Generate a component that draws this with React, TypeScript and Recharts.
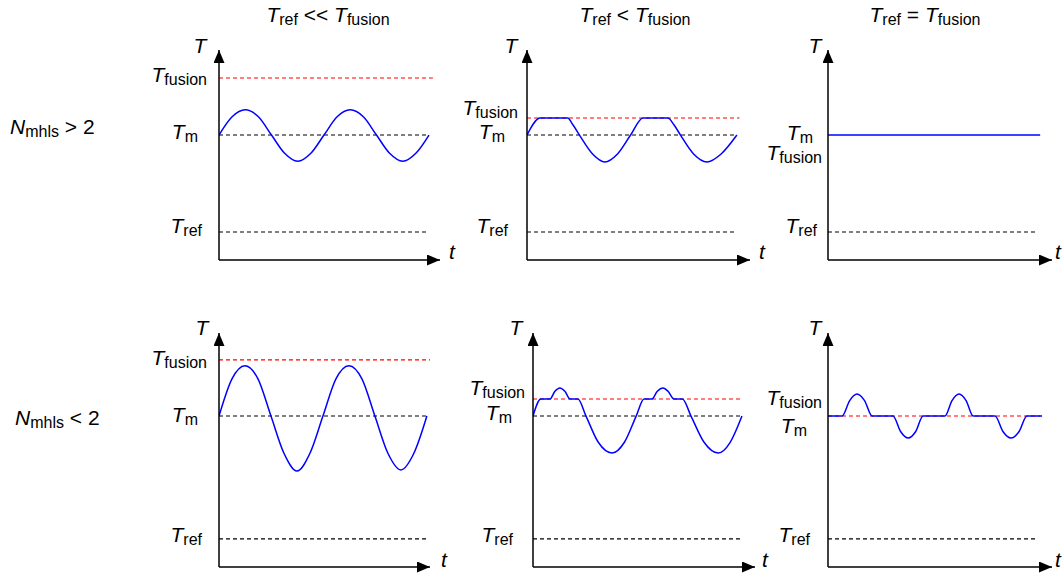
import React from "react";
import { LineChart, Line, XAxis, YAxis } from "recharts";

const FONT = "'Liberation Sans', Arial, Helvetica, sans-serif";
const BLUE = "#0000ff";
const RED = "#ff0000";
const DARK = "#000000";

// time in quarter periods of the oscillation,
// temperature in percent of the height of the T axis
const sineTime = [0, 0.5, 1, 1.5, 2, 2.5, 3, 3.5, 4, 4.5, 5, 5.5, 6, 6.5, 7, 7.5, 8];

// N_mhls > 2
const topLeftTemp = [59.5, 68.2, 71.5, 68.2, 59.5, 50.8, 47, 50.8, 59.5, 68.2, 71.5, 68.2, 59.5, 50.8, 47, 50.8, 59.5];
const topMidTime = [0, 0.5, 1.55, 1.75, 2, 2.5, 2.97, 3.45, 3.95, 4.42, 5.37, 5.6, 5.85, 6.35, 6.86, 7.4, 8];
const topMidTemp = [59.5, 67.6, 67.6, 64.4, 59.5, 50.5, 46.7, 50.5, 59.5, 67.6, 67.6, 64.4, 59.5, 50.5, 46.7, 50.5, 59.5];
const topRightTime = [0, 8.08];
const topRightTemp = [59.5, 59.5];

// N_mhls < 2
const botLeftTemp = [64.5, 80.4, 86, 80.4, 64.5, 48.6, 41, 48.6, 64.5, 80.4, 86, 80.4, 64.5, 48.6, 41.5, 48.6, 64.5];
const botMidTime = [0, 0.3, 0.65, 0.84, 1.03, 1.22, 1.42, 1.72, 2.03, 2.5, 3.03, 3.5, 3.95, 4.25, 4.55, 4.76, 4.98, 5.17, 5.4, 5.72, 6.05, 6.55, 7.09, 7.55, 8];
const botMidTemp = [64.5, 71.8, 71.8, 75.1, 76.5, 75.1, 71.8, 71.8, 64.5, 53.3, 48.7, 53.3, 64.5, 71.8, 71.8, 75.1, 76.5, 75.1, 71.8, 71.8, 64.5, 53.3, 48.7, 53.3, 64.5];
const botRightTime = [0, 0.54, 0.83, 1.11, 1.4, 1.69, 2.49, 2.78, 3.07, 3.36, 3.64, 4.48, 4.75, 5.02, 5.29, 5.56, 6.4, 6.7, 7.01, 7.32, 7.62, 8.2];
const botRightTemp = [64.5, 64.5, 71.1, 73.9, 71.1, 64.5, 64.5, 57.9, 55.1, 57.9, 64.5, 64.5, 71.1, 73.9, 71.1, 64.5, 64.5, 57.9, 55.1, 57.9, 64.5, 64.5];

// [T_ref, T_m, T_fusion] per panel
const topLeftLevels = [13.3, 59.5, 86.7];
const topMidLevels = [13.3, 59.5, 67.6];
const topRightLevels = [13.3, 59.5, 59.5];
const botLeftLevels = [12, 64.5, 88.5];
const botMidLevels = [12, 64.5, 71.8];
const botRightLevels = [12, 64.5, 64.5];

// where each dashed level line stops (null = not drawn)
const topLeftEnds = [7.95, 8, 8.15];
const topMidEnds = [7.96, 7.96, 8.1];
const topRightEnds = [7.96, null, null];
const botLeftEnds = [8, 8.04, 8.12];
const botMidEnds = [8, 8, 8];
const botRightEnds = [8, null, 8.12];

const levelSubs = ["ref", "m", "fusion"];
const levelColors = [DARK, DARK, RED];

type Offset = { dx: number; dy: number };
type Panel = {
  time: number[];
  temp: number[];
  levels: number[];
  ends: (number | null)[];
  tMax: number;
  axisX: number;
  tipX: number;
  tipY: number;
  axisY: number;
  labels: Offset[];
  yLabel: Offset;
  xLabel: Offset;
};

const panels: Panel[] = [
  {
    time: sineTime, temp: topLeftTemp, levels: topLeftLevels, ends: topLeftEnds, tMax: 8.42,
    axisX: 219, tipX: 440, tipY: 50, axisY: 260,
    labels: [{ dx: -17, dy: 1 }, { dx: -21, dy: 4 }, { dx: -12, dy: 4 }],
    yLabel: { dx: -19, dy: 3 }, xLabel: { dx: 12, dy: -1 },
  },
  {
    time: topMidTime, temp: topMidTemp, levels: topMidLevels, ends: topMidEnds, tMax: 8.5,
    axisX: 527, tipX: 750, tipY: 50, axisY: 260,
    labels: [{ dx: -19, dy: 1 }, { dx: -22, dy: 4 }, { dx: -9, dy: -3 }],
    yLabel: { dx: -16, dy: 3 }, xLabel: { dx: 12, dy: -1 },
  },
  {
    time: topRightTime, temp: topRightTemp, levels: topRightLevels, ends: topRightEnds, tMax: 8.53,
    axisX: 828, tipX: 1052, tipY: 50, axisY: 260,
    labels: [{ dx: -11, dy: 1 }, { dx: -15, dy: 5 }, { dx: -6, dy: 25 }],
    yLabel: { dx: -13, dy: 3 }, xLabel: { dx: 6, dy: -1 },
  },
  {
    time: sineTime, temp: botLeftTemp, levels: botLeftLevels, ends: botLeftEnds, tMax: 8.12,
    axisX: 219, tipX: 430, tipY: 333, axisY: 567,
    labels: [{ dx: -17, dy: 3 }, { dx: -21, dy: 6 }, { dx: -12, dy: 5 }],
    yLabel: { dx: -17, dy: 2 }, xLabel: { dx: 14, dy: 0 },
  },
  {
    time: botMidTime, temp: botMidTemp, levels: botMidLevels, ends: botMidEnds, tMax: 8.5,
    axisX: 533, tipX: 755, tipY: 333, axisY: 567,
    labels: [{ dx: -20, dy: 3 }, { dx: -21, dy: 4 }, { dx: -8, dy: -4 }],
    yLabel: { dx: -17, dy: 2 }, xLabel: { dx: 10, dy: 0 },
  },
  {
    time: botRightTime, temp: botRightTemp, levels: botRightLevels, ends: botRightEnds, tMax: 8.58,
    axisX: 828, tipX: 1052, tipY: 333, axisY: 567,
    labels: [{ dx: -18, dy: 3 }, { dx: -21, dy: 17 }, { dx: -6, dy: -11 }],
    yLabel: { dx: -13, dy: 2 }, xLabel: { dx: 6, dy: 0 },
  },
];

const ML = 80;
const MT = 30;
const MR = 20;
const MB = 10;

function Sym({ x, y, main, sub, anchor = "end", italic = true }: any) {
  return (
    <text x={x} y={y} textAnchor={anchor} fontFamily={FONT} fontSize={21} fill="#000" style={{ whiteSpace: "pre" }}>
      <tspan fontStyle={italic ? "italic" : "normal"}>{main}</tspan>
      {sub && <tspan fontSize={16} dy={3}>{sub}</tspan>}
    </text>
  );
}

function PanelChart({ p }: { p: Panel }) {
  const w = p.tipX - p.axisX + ML + MR;
  const h = p.axisY - p.tipY + MT + MB;
  const curve = p.time.map((t, i) => ({ t, v: p.temp[i] }));
  const yTicks = Array.from(new Set([...p.levels, 100]));

  const yTick = (props: any) => {
    const { x, y, payload } = props;
    const out: React.ReactNode[] = [];
    if (payload.value === 100) {
      out.push(<Sym key="T" x={x + p.yLabel.dx} y={y + p.yLabel.dy} main="T" anchor="middle" />);
    }
    p.levels.forEach((lv, i) => {
      if (lv === payload.value) {
        out.push(<Sym key={i} x={x + p.labels[i].dx} y={y + p.labels[i].dy} main="T" sub={levelSubs[i]} />);
      }
    });
    return <g>{out}</g>;
  };

  const xTick = (props: any) => (
    <Sym x={props.x + p.xLabel.dx} y={props.y + p.xLabel.dy} main="t" anchor="middle" />
  );

  return (
    <div style={{ position: "absolute", left: p.axisX - ML, top: p.tipY - MT }}>
      <LineChart width={w} height={h} margin={{ top: MT, right: MR, bottom: MB - 5, left: ML - 60 }}>
        <XAxis
          dataKey="t"
          type="number"
          domain={[0, p.tMax]}
          allowDataOverflow
          ticks={[p.tMax]}
          interval={0}
          height={5}
          tickSize={0}
          tickMargin={0}
          tickLine={false}
          tick={xTick}
          axisLine={{ stroke: "#000", strokeWidth: 1.5, markerEnd: "url(#arrowHead)" }}
        />
        <YAxis
          type="number"
          domain={[0, 100]}
          allowDataOverflow
          ticks={yTicks}
          interval={0}
          width={60}
          tickSize={0}
          tickMargin={0}
          tickLine={false}
          tick={yTick}
          axisLine={{ stroke: "#000", strokeWidth: 1.5, markerStart: "url(#arrowHead)" }}
        />
        {p.levels.map((lv, i) =>
          p.ends[i] === null ? null : (
            <Line
              key={"lv" + i}
              data={[{ t: 0, v: lv }, { t: p.ends[i] as number, v: lv }]}
              dataKey="v"
              type="linear"
              stroke={levelColors[i]}
              strokeWidth={1.1}
              strokeDasharray="4 3"
              dot={false}
              activeDot={false}
              isAnimationActive={false}
            />
          )
        )}
        <Line
          data={curve}
          dataKey="v"
          type="monotone"
          stroke={BLUE}
          strokeWidth={1.5}
          dot={false}
          activeDot={false}
          isAnimationActive={false}
        />
      </LineChart>
    </div>
  );
}

function Heading({ x, y, rel, anchor = "middle" }: any) {
  return (
    <text x={x} y={y} textAnchor={anchor} fontFamily={FONT} fontSize={21} fill="#000" style={{ whiteSpace: "pre" }}>
      <tspan fontStyle="italic">T</tspan>
      <tspan fontSize={16} dy={3}>ref</tspan>
      <tspan dy={-3}>{rel}</tspan>
      <tspan fontStyle="italic">T</tspan>
      <tspan fontSize={16} dy={3}>fusion</tspan>
    </text>
  );
}

function RowLabel({ x, y, rel }: any) {
  return (
    <text x={x} y={y} fontFamily={FONT} fontSize={21} fill="#000" style={{ whiteSpace: "pre" }}>
      <tspan fontStyle="italic">N</tspan>
      <tspan fontSize={16} dy={3}>mhls</tspan>
      <tspan dy={-3}>{rel}</tspan>
    </text>
  );
}

export default function App() {
  return (
    <div style={{ position: "absolute", left: 0, top: 0, width: 1063, height: 579, overflow: "hidden", background: "#fff" }}>
      <svg width={1063} height={579} style={{ position: "absolute", left: 0, top: 0 }}>
        <defs>
          <marker
            id="arrowHead"
            viewBox="0 0 13 11"
            refX={13}
            refY={5.5}
            markerWidth={13}
            markerHeight={11}
            markerUnits="userSpaceOnUse"
            orient="auto-start-reverse"
          >
            <path d="M0,0 L13,5.5 L0,11 z" fill="#000" />
          </marker>
        </defs>
        <Heading x={328} y={22} rel=" << " />
        <Heading x={635} y={22} rel=" < " />
        <Heading x={925} y={22} rel=" = " />
        <RowLabel x={10} y={134} rel=" > 2" />
        <RowLabel x={15} y={425} rel=" < 2" />
      </svg>
      {panels.map((p, i) => (
        <PanelChart key={i} p={p} />
      ))}
    </div>
  );
}
